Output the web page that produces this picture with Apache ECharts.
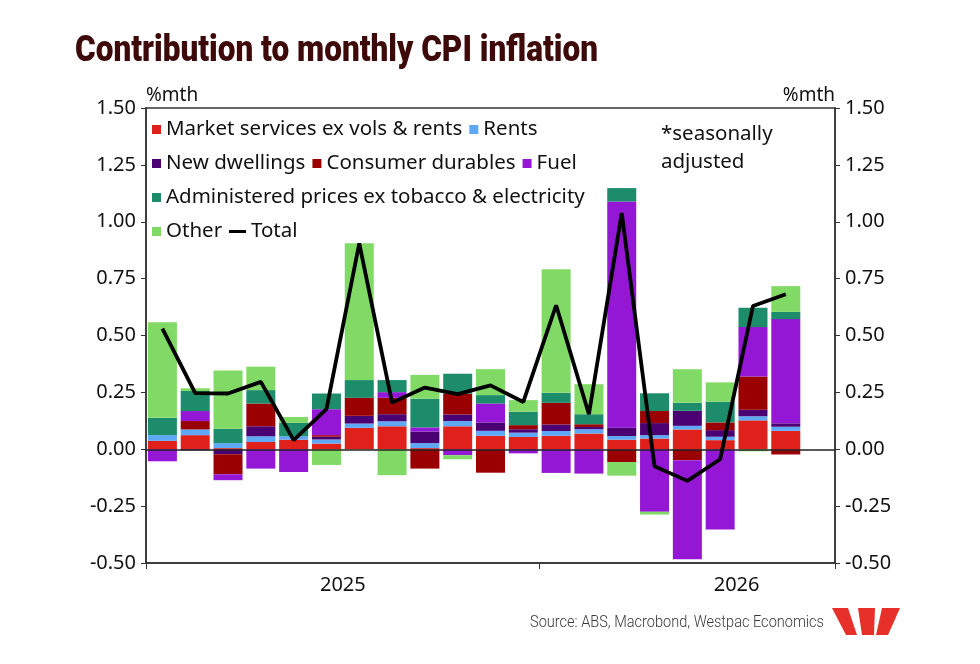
<!DOCTYPE html>
<html>
<head>
<meta charset="utf-8">
<script src="https://cdn.jsdelivr.net/npm/echarts@6/dist/echarts.min.js"></script>
<style>
html, body { margin: 0; padding: 0; background: #fff; }
#chart { width: 980px; height: 664px; }
</style>
</head>
<body>
<div id="chart"></div>
<script>
// months Jan 2025 .. Aug 2026, contributions in %mth (seasonally adjusted)
const months = ["Jan 2025", "Feb 2025", "Mar 2025", "Apr 2025", "May 2025", "Jun 2025",
    "Jul 2025", "Aug 2025", "Sep 2025", "Oct 2025", "Nov 2025", "Dec 2025",
    "Jan 2026", "Feb 2026", "Mar 2026", "Apr 2026", "May 2026", "Jun 2026",
    "Jul 2026", "Aug 2026"];
const yearTicks = {6: "2025", 18: "2026"};

const marketServices = [0.037, 0.062, 0.005, 0.032, 0.042, 0.025, 0.094, 0.101, 0.005, 0.101,
    0.059, 0.054, 0.059, 0.069, 0.042, 0.047, 0.087, 0.040, 0.127, 0.081];
const rents = [0.025, 0.025, 0.022, 0.025, 0.015, 0.018, 0.019, 0.022, 0.022, 0.023,
    0.022, 0.019, 0.021, 0.019, 0.016, 0.015, 0.016, 0.015, 0.018, 0.018];
const newDwellings = [0, -0.005, -0.022, 0.044, 0, 0.012, 0.034, 0.031, 0.051, 0.029,
    0.037, 0.015, 0.029, 0.010, 0.037, 0.053, 0.066, 0.029, 0.029, 0.015];
const consumerDurables = [0, 0.037, -0.088, 0.100, 0, 0.007, 0.079, 0.072, -0.085, 0.091,
    -0.103, 0.018, 0.095, 0.012, -0.056, 0.053, -0.048, 0.034, 0.146, -0.023];
const fuel = [-0.053, 0.044, -0.026, -0.085, -0.100, 0.114, 0, 0.025, 0.018, -0.026,
    0.083, -0.018, -0.104, -0.107, 0.994, -0.275, -0.436, -0.353, 0.217, 0.458];
const administered = [0.076, 0.088, 0.063, 0.059, 0.059, 0.069, 0.078, 0.053, 0.126, 0.088,
    0.037, 0.059, 0.044, 0.044, 0.059, 0.078, 0.035, 0.091, 0.085, 0.032];
const other = [0.420, 0.012, 0.256, 0.103, 0.026, -0.069, 0.602, -0.114, 0.105, -0.018,
    0.114, 0.051, 0.543, 0.132, -0.060, -0.012, 0.148, 0.085, -0.009, 0.113];
const total = [0.53, 0.247, 0.245, 0.296, 0.04, 0.176, 0.905, 0.205, 0.271, 0.242,
    0.281, 0.208, 0.633, 0.154, 1.038, -0.075, -0.139, -0.044, 0.63, 0.681];

const components = [
    ["Market services ex vols & rents", marketServices, "#e0201b"],
    ["Rents", rents, "#5ea8f6"],
    ["New dwellings", newDwellings, "#4a0072"],
    ["Consumer durables", consumerDurables, "#9a0000"],
    ["Fuel", fuel, "#9317d4"],
    ["Administered prices ex tobacco & electricity", administered, "#1c8c6b"],
    ["Other", other, "#82da66"],
];

const font = "Noto Sans";
const axisColor = "#333";
const titleText = "Contribution to monthly CPI inflation";
const sourceText = "Source: ABS, Macrobond, Westpac Economics";

// squeeze a line of text to a given width (the original uses condensed faces)
function fitScale(text, cssFont, width) {
    const ctx = document.createElement("canvas").getContext("2d");
    ctx.font = cssFont;
    return width / ctx.measureText(text).width;
}

const series = components.map(([name, values, color], i) => ({
    name: name,
    type: "bar",
    stack: "cpi",
    barWidth: 29,
    itemStyle: {color: color},
    data: values,
    markLine: i === 0 ? {
        silent: true,
        symbol: ["none", "none"],
        label: {show: false},
        lineStyle: {color: "#222", width: 1.5, type: "solid"},
        data: [{yAxis: 0}],
    } : undefined,
}));
series.push({
    name: "Total",
    type: "line",
    symbol: "none",
    z: 5,
    lineStyle: {color: "#000", width: 3.8},
    itemStyle: {color: "#000"},
    data: total,
});

const legendBase = {
    left: 152,
    padding: 0,
    itemWidth: 9,
    itemHeight: 9,
    itemGap: 7,
    icon: "rect",
    textStyle: {fontFamily: font, fontSize: 20.5, color: "#111"},
};

const yAxisBase = {
    type: "value",
    min: -0.5,
    max: 1.5,
    interval: 0.25,
    name: "%mth",
    nameLocation: "end",
    nameGap: 3,
    axisLine: {show: true, lineStyle: {color: axisColor, width: 1.5}},
    axisTick: {show: true, inside: false, length: 5, lineStyle: {color: axisColor}},
    axisLabel: {
        fontFamily: font, fontSize: 20, color: "#111", margin: 10,
        formatter: (v) => v.toFixed(2),
    },
    splitLine: {show: false},
};

const option = {
    animation: false,
    grid: {
        left: 146, right: 145, top: 108, bottom: 101,
        show: true, borderColor: axisColor, borderWidth: 1.5,
        containLabel: false,
    },
    legend: [
        Object.assign({}, legendBase, {top: 119, data: ["Market services ex vols & rents", "Rents"]}),
        Object.assign({}, legendBase, {top: 153, data: ["New dwellings", "Consumer durables", "Fuel"]}),
        Object.assign({}, legendBase, {top: 187, data: ["Administered prices ex tobacco & electricity"]}),
        Object.assign({}, legendBase, {top: 221, data: ["Other"]}),
        Object.assign({}, legendBase, {left: 229, top: 221, itemWidth: 17, itemHeight: 3, data: ["Total"]}),
    ],
    xAxis: [
        {
            type: "category",
            data: months.concat([""]),
            boundaryGap: true,
            axisLine: {onZero: false, lineStyle: {color: axisColor, width: 1.5}},
            axisTick: {
                show: true, inside: false, length: 6,
                interval: (i) => i === 0 || i === 12,
                lineStyle: {color: axisColor},
            },
            axisLabel: {show: false},
        },
        {
            type: "value",
            position: "bottom",
            min: 0,
            max: 21,
            interval: 6,
            axisLine: {show: false},
            axisTick: {show: false},
            splitLine: {show: false},
            axisLabel: {
                fontFamily: font, fontSize: 20, color: "#111", margin: 12,
                formatter: (v) => yearTicks[v] || "",
            },
        },
    ],
    yAxis: [
        Object.assign({}, yAxisBase, {
            position: "left",
            nameTextStyle: {fontFamily: font, fontSize: 19, color: "#111", align: "left"},
        }),
        Object.assign({}, yAxisBase, {
            position: "right",
            nameTextStyle: {fontFamily: font, fontSize: 19, color: "#111", align: "right"},
        }),
    ],
    graphic: [
        {
            type: "text",
            x: 75,
            y: 33,
            scaleX: fitScale(titleText, "900 37px Roboto", 523),
            style: {
                text: titleText,
                fontFamily: "Roboto",
                fontWeight: 900,
                fontSize: 37,
                fill: "#3d0909",
            },
        },
        {
            type: "text",
            left: 661,
            top: 120,
            style: {
                text: "*seasonally\nadjusted",
                fontFamily: font,
                fontSize: 20.5,
                lineHeight: 28,
                fill: "#111",
            },
        },
        {
            type: "text",
            x: 530,
            y: 614,
            scaleX: fitScale(sourceText, "300 17px Roboto", 294),
            style: {
                text: sourceText,
                fontFamily: "Roboto",
                fontWeight: 300,
                fontSize: 17,
                fill: "#3a3a3a",
            },
        },
        {
            type: "group",
            left: 832,
            top: 608,
            children: [
                {type: "polygon", shape: {points: [[0, 0], [16, 0], [25, 27], [14, 27]]}, style: {fill: "#e8302a"}},
                {type: "polygon", shape: {points: [[26, 0], [43, 0], [42, 27], [30, 27]]}, style: {fill: "#e8302a"}},
                {type: "polygon", shape: {points: [[50, 0], [68, 0], [56, 27], [44, 27]]}, style: {fill: "#e8302a"}},
            ],
        },
    ],
    series: series,
};

const chart = echarts.init(document.getElementById("chart"));
chart.setOption(option);
</script>
</body>
</html>
